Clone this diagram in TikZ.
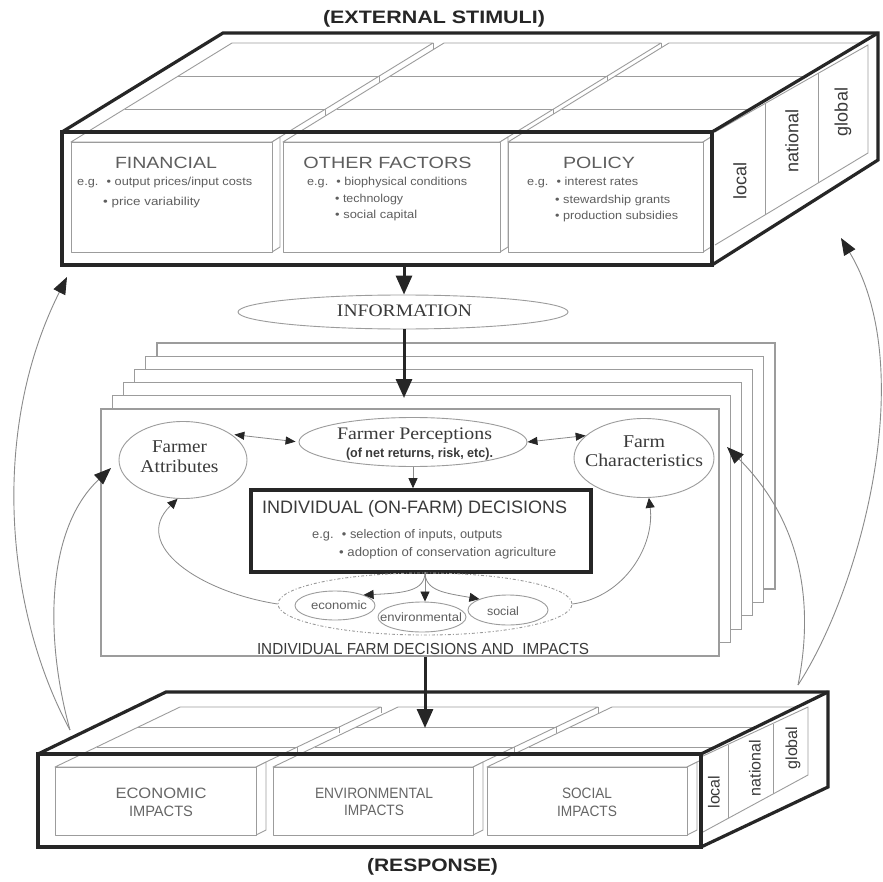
\documentclass[tikz,border=0pt]{standalone}
\usepackage{fontspec}
\usepackage{graphicx}
\setmainfont{Liberation Serif}
\setsansfont{Liberation Sans}
\usetikzlibrary{arrows.meta,shapes.geometric}

\definecolor{ink}{HTML}{262626}
\definecolor{txtdark}{HTML}{3A3A3A}
\definecolor{txtgray}{HTML}{5E5E5E}
\definecolor{edgegray}{HTML}{9C9C9C}
\definecolor{curvegray}{HTML}{8A8A8A}

% set a line of text to a given width (in pt) keeping its height
\newcommand{\fw}[2]{\resizebox{#1pt}{\height}{#2}}
\newcommand{\fsz}[2]{\fontsize{#1}{#2}\selectfont}

\tikzset{
  frame/.style={draw=ink, line width=3.2pt, line join=miter},
  facet/.style={draw=edgegray, line width=0.9pt, fill=white, line join=round},
  facetline/.style={draw=edgegray, line width=0.9pt},
  sheet/.style={draw=edgegray, line width=1.1pt, fill=white},
  lbl/.style={inner sep=0pt, font=\sffamily, text=txtgray},
  bigarrow/.style={draw=ink, line width=3pt, -{Triangle[length=19pt,width=16pt]}},
  tiparrow/.style={draw=curvegray, line width=0.8pt, -{Triangle[length=10pt,width=9pt,color=ink]}},
  twoway/.style={draw=curvegray, line width=0.8pt, {Triangle[length=10pt,width=8pt,color=ink]}-{Triangle[length=10pt,width=8pt,color=ink]}},
  feedback/.style={draw=curvegray, line width=0.9pt, -{Triangle[length=17pt,width=13pt,color=ink]}},
  oval/.style={ellipse, draw=edgegray, line width=0.9pt, inner sep=0pt},
}

\begin{document}
\begin{tikzpicture}[x=1pt,y=-1pt]
\useasboundingbox[fill=white] (0,0) rectangle (882,882);

% ================= external stimuli block =================
\fill[white] (62,132) -- (223,33) -- (878,33) -- (878,160) -- (712,265) -- (62,265) -- cycle;
\foreach \xl/\xr in {71/272,283/500,508/703}{
  \filldraw[facet] (\xl,142) -- (\xr,142) -- ({\xr+8},137) -- ({\xr+161},43) -- ({\xl+161},43) -- cycle;
  \foreach \t in {0.3333,0.6667}{
    \draw[facetline] ({\xl+161*\t},{142-99*\t}) -- ({\xr+161*\t},{142-99*\t}) -- ++(0,8);
  }
  \draw[facetline] ({\xr+161},43) -- ++(0,8);
  \filldraw[facet] (\xr,142) -- ({\xr+8},137) -- ({\xr+8},247) -- (\xr,252) -- cycle;
  \filldraw[facet] (\xl,142) rectangle (\xr,252);
}
% side face with the three levels
\fill[white] (712,132) -- (878,33) -- (878,160) -- (712,265) -- cycle;
\draw[facetline] (715,132) -- (868,45) -- (868,153) -- (715,245);
\draw[facetline] (765,104) -- (765,215);
\draw[facetline] (818,73) -- (818,183);
\node[lbl, rotate=90, text=txtdark, font=\sffamily\fsz{18}{20}] (sLocal) at (740,181) {local};
\node[lbl, rotate=90, text=txtdark, font=\sffamily\fsz{18}{20}] (sNational) at (792,141) {national};
\node[lbl, rotate=90, text=txtdark, font=\sffamily\fsz{18}{20}] (sGlobal) at (843,112) {global};
% outline
\draw[frame] (62,132) rectangle (712,265);
\draw[frame] (62,132) -- (223,33) -- (878,33) -- (878,160) -- (712,265);
\draw[frame] (712,132) -- (878,33);

\node[lbl, text=ink, font=\sffamily\bfseries\fsz{18}{20}] (stimTitle) at (434,19) {\fw{222}{(EXTERNAL STIMULI)}};

\node[lbl, font=\sffamily\fsz{16.3}{18}] (finHead) at (166,162.5) {\fw{102}{FINANCIAL}};
\node[lbl, anchor=west, font=\sffamily\fsz{11.5}{13}] (fin1) at (77,183) {\fw{175}{e.g. \ • output prices/input costs}};
\node[lbl, anchor=west, font=\sffamily\fsz{11.5}{13}] (fin2) at (103,203) {\fw{97}{• price variability}};

\node[lbl, font=\sffamily\fsz{16.3}{18}] (othHead) at (387.5,163) {\fw{168}{OTHER FACTORS}};
\node[lbl, anchor=west, font=\sffamily\fsz{11.5}{13}] (oth1) at (307,183) {\fw{160}{e.g. \ • biophysical conditions}};
\node[lbl, anchor=west, font=\sffamily\fsz{11.5}{13}] (oth2) at (335,200) {\fw{68}{• technology}};
\node[lbl, anchor=west, font=\sffamily\fsz{11.5}{13}] (oth3) at (335,216) {\fw{82}{• social capital}};

\node[lbl, font=\sffamily\fsz{16.3}{18}] (polHead) at (599,163) {\fw{72}{POLICY}};
\node[lbl, anchor=west, font=\sffamily\fsz{11.5}{13}] (pol1) at (527,183) {\fw{111}{e.g. \ • interest rates}};
\node[lbl, anchor=west, font=\sffamily\fsz{11.5}{13}] (pol2) at (555,201) {\fw{115}{• stewardship grants}};
\node[lbl, anchor=west, font=\sffamily\fsz{11.5}{13}] (pol3) at (555,217) {\fw{123}{• production subsidies}};

% ================= information =================
\node[oval, minimum width=330pt, minimum height=34pt] (info) at (403,312) {};
\node[inner sep=0pt, text=txtdark, font=\fsz{17.6}{20}] (infoText) at (404.5,311) {\fw{135}{INFORMATION}};

% ================= stack of farm sheets =================
\foreach \k in {0,...,4}{
  \filldraw[sheet] ({157-11.2*\k},{343+13.2*\k}) rectangle ({775-11.2*\k},{589+13.4*\k});
}
\node[sheet, rectangle, minimum width=618pt, minimum height=247pt, inner sep=0pt] (farm) at (410,532.5) {};

\node[oval, minimum width=128pt, minimum height=77pt] (attr) at (183,460) {};
\node[inner sep=0pt, align=center, text=txtdark, font=\fsz{18}{20}] (attrText) at (179.5,457) {\fw{55}{Farmer}\\\fw{78}{Attributes}};

\node[oval, minimum width=228pt, minimum height=49pt] (perc) at (413,442) {};
\node[inner sep=0pt, text=txtdark, font=\fsz{17.6}{20}] (percText) at (414.5,436) {\fw{155}{Farmer Perceptions}};
\node[inner sep=0pt, text=txtdark, font=\sffamily\bfseries\fsz{13}{15}] (percSub) at (419.5,454) {\fw{147}{(of net returns, risk, etc).}};

\node[oval, minimum width=140pt, minimum height=79pt] (char) at (644,458) {};
\node[inner sep=0pt, align=center, text=txtdark, font=\fsz{18}{19}] (charText) at (644,451.5) {\fw{42}{Farm}\\\fw{118}{Characteristics}};

\node[draw=ink, line width=3.6pt, minimum width=340pt, minimum height=82pt, inner sep=0pt] (dec) at (421,531) {};
\node[lbl, anchor=west, text=txtdark, font=\sffamily\fsz{18}{20}] (decHead) at (262,509) {\fw{305}{INDIVIDUAL (ON-FARM) DECISIONS}};
\node[lbl, anchor=west, font=\sffamily\fsz{12.5}{14}] (dec1) at (312,535) {\fw{190}{e.g. \ • selection of inputs, outputs}};
\node[lbl, anchor=west, font=\sffamily\fsz{12.5}{14}] (dec2) at (339,553) {\fw{217}{• adoption of conservation agriculture}};

\node[ellipse, draw=black!40, line width=0.9pt, dash pattern=on 3pt off 2pt on 1pt off 2pt,
      minimum width=294pt, minimum height=62pt, inner sep=0pt] (impacts) at (425,604) {};
\node[oval, minimum width=80pt, minimum height=29pt] (eco) at (335,605.5) {};
\node[oval, minimum width=88pt, minimum height=30pt] (env) at (422,617) {};
\node[oval, minimum width=80pt, minimum height=30pt] (soc) at (508,610) {};
\node[lbl, font=\sffamily\fsz{12}{14}] (ecoText) at (339,605) {\fw{56}{economic}};
\node[lbl, font=\sffamily\fsz{12}{14}] (envText) at (421,617) {\fw{82}{environmental}};
\node[lbl, font=\sffamily\fsz{12}{14}] (socText) at (503,611) {\fw{32}{social}};

\node[lbl, text=txtdark, font=\sffamily\fsz{16}{18}] (farmTitle) at (423,649) {\fw{332}{INDIVIDUAL FARM DECISIONS AND \ IMPACTS}};

% links inside the farm sheet
\draw[twoway, shorten <=3pt, shorten >=3pt] (attr.28) -- (perc.west);
\draw[twoway] (perc.east) -- (char.159);
\draw[tiparrow] (perc.south) -- (perc.south |- dec.north);
\coordinate (branch) at (425,572);
\draw[tiparrow] (branch) .. controls (425,591) and (405,593) .. (eco.north east);
\draw[tiparrow] (branch) -- (branch |- env.north);
\draw[tiparrow] (branch) .. controls (425,591) and (445,593) .. (soc.north west);
\draw[tiparrow] (impacts.west) .. controls (200,592) and (130,545) .. (attr.262);
\draw[tiparrow] (impacts.east) .. controls (625,597) and (655,545) .. (char.277);

% ================= response block =================
\fill[white] (38,754) -- (166,692) -- (828,692) -- (828,787) -- (701,847) -- (38,847) -- cycle;
\foreach \xl/\xr in {55/256,273/473,487/687}{
  \filldraw[facet] (\xl,767) -- (\xr,767) -- ({\xr+10},762) -- ({\xr+125},707) -- ({\xl+125},707) -- cycle;
  \foreach \t in {0.3333,0.6667}{
    \draw[facetline] ({\xl+125*\t},{767-60*\t}) -- ({\xr+125*\t},{767-60*\t}) -- ++(0,6);
  }
  \draw[facetline] ({\xr+125},707) -- ++(0,6);
  \filldraw[facet] (\xr,767) -- ({\xr+10},762) -- ({\xr+10},830) -- (\xr,835) -- cycle;
  \filldraw[facet] (\xl,767) rectangle (\xr,835);
}
\fill[white] (701,754) -- (828,692) -- (828,787) -- (701,847) -- cycle;
\draw[facetline] (703,756) -- (808,707) -- (808,775) -- (703,832);
\draw[facetline] (728,745) -- (728,818);
\draw[facetline] (773,724) -- (773,794);
\node[lbl, rotate=90, text=txtdark, font=\sffamily\fsz{16}{18}] (rLocal) at (714,792) {local};
\node[lbl, rotate=90, text=txtdark, font=\sffamily\fsz{16}{18}] (rNational) at (755,768) {national};
\node[lbl, rotate=90, text=txtdark, font=\sffamily\fsz{16}{18}] (rGlobal) at (793,748) {global};
\draw[frame] (38,754) rectangle (701,847);
\draw[frame] (38,754) -- (166,692) -- (828,692) -- (828,787) -- (701,847);
\draw[frame] (701,754) -- (828,692);

\node[lbl, align=center, text=black!60, font=\sffamily\fsz{15}{18}] (ecoImp) at (161,802) {\fw{91}{ECONOMIC}\\\fw{64}{IMPACTS}};
\node[lbl, align=center, text=black!60, font=\sffamily\fsz{15}{17}] (envImp) at (374,801.5) {\fw{118}{ENVIRONMENTAL}\\\fw{60}{IMPACTS}};
\node[lbl, align=center, text=black!60, font=\sffamily\fsz{15}{18}] (socImp) at (587,802) {\fw{50}{SOCIAL}\\\fw{60}{IMPACTS}};

\node[lbl, text=ink, font=\sffamily\bfseries\fsz{18}{20}] (respTitle) at (432.5,867) {\fw{131}{(RESPONSE)}};

% ================= main flow arrows =================
\coordinate (stimOut) at (404,265);
\coordinate (stackIn) at (404,398);
\coordinate (respIn) at (425,728);
\draw[bigarrow] (stimOut) -- (stimOut |- info.north);
\draw[bigarrow] (info.south -| stackIn) -- (stackIn);
\draw[bigarrow] (farm.south -| respIn) -- (respIn);

% ================= feedback arrows =================
\coordinate (respLeft) at (70,730);
\coordinate (stimLeft) at (67,277);
\coordinate (attrIn) at (111,468);
\coordinate (respRight) at (798,685);
\coordinate (stimRight) at (841,238);
\coordinate (charIn) at (727,447);
\draw[feedback] (respLeft) .. controls (5,610) and (-10,430) .. (stimLeft);
\draw[feedback] (respLeft) .. controls (45,640) and (45,530) .. (attrIn);
\draw[feedback] (respRight) .. controls (860,590) and (920,370) .. (stimRight);
\draw[feedback] (respRight) .. controls (815,600) and (800,520) .. (charIn);

\end{tikzpicture}
\end{document}
